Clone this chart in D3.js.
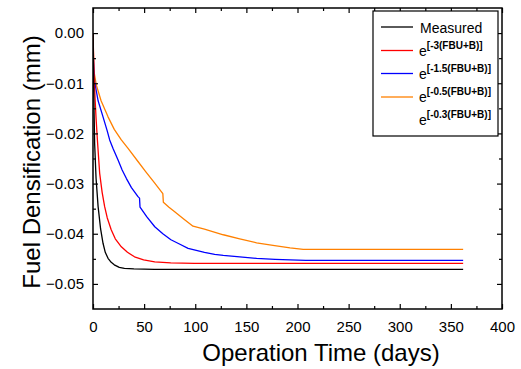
<!DOCTYPE html>
<html><head><meta charset="utf-8">
<script src="https://cdn.jsdelivr.net/npm/d3@7"></script>
<style>
html,body{margin:0;padding:0;background:#fff;}
svg{display:block;font-family:"Liberation Sans",Arial,sans-serif;}
</style></head>
<body>
<svg id="chart" width="521" height="369"></svg>
<script>
// ---- data ----
const measuredDays = [0,0.5,1,1.6,3,5,7.4,9.8,12,14.7,17.8,20.8,25.7,30.7,40,60,362];
const measuredVals = [0,-0.008,-0.015,-0.022,-0.029,-0.0346,-0.039,-0.0419,-0.0437,-0.0449,-0.0457,-0.0462,-0.0467,-0.0469,-0.0470,-0.0471,-0.0471];

const red3Days = [0,1,2,3,4.3,6.5,8.9,11.4,13.9,17.8,21.8,27.7,33.7,40.6,49.5,60.4,76,99,362];
const red3Vals = [0,-0.008,-0.013,-0.017,-0.0213,-0.0279,-0.0317,-0.0346,-0.0368,-0.0392,-0.0410,-0.0426,-0.0437,-0.0446,-0.0452,-0.0456,-0.0458,-0.0459,-0.0459];

const blue15Days = [0,0.8,1.6,5,9.8,13.9,16.3,19.6,24.5,28.5,32.7,37.6,44,45.5,46,52.5,60.4,68.3,76.2,85,93,109,119,127.4,143.5,160,178,192.7,208,362];
const blue15Vals = [-0.003,-0.007,-0.0097,-0.0135,-0.0167,-0.0195,-0.0213,-0.0230,-0.0253,-0.0273,-0.0290,-0.0308,-0.0326,-0.0329,-0.0347,-0.0366,-0.0386,-0.0400,-0.0412,-0.0421,-0.0429,-0.0437,-0.0441,-0.0443,-0.0446,-0.0449,-0.0451,-0.0452,-0.0453,-0.0453];

const orange05Days = [0,0.8,3.3,7.9,14.7,20.8,27.7,34.3,44,51.5,60.4,68.3,68.8,74.3,79.9,89,97.8,109,127.4,143.5,160,176,192.7,205.6,362];
const orange05Vals = [0,-0.0075,-0.0104,-0.0135,-0.0167,-0.0192,-0.0213,-0.0230,-0.0256,-0.0276,-0.0299,-0.0320,-0.0337,-0.0347,-0.0356,-0.0371,-0.0385,-0.0391,-0.0402,-0.0410,-0.0418,-0.0423,-0.0428,-0.0431,-0.0431];

const xTickValues = [0,50,100,150,200,250,300,350,400];
const yTickValues = [0,-0.01,-0.02,-0.03,-0.04,-0.05];
const xMinorTicks = [25,75,125,175,225,275,325,375];
const yMinorTicks = [-0.005,-0.015,-0.025,-0.035,-0.045];

const legendLabels = ["Measured", "-3(FBU+B)", "-1.5(FBU+B)", "-0.5(FBU+B)", "-0.3(FBU+B)"];
const legendColors = ["#000000", "#ff0000", "#0000ff", "#ff8000", null];

// ---- layout ----
const L = 93, R = 502, T = 8, B = 309;
const svg = d3.select("#chart");
const x = d3.scaleLinear().domain([0,400]).range([L,R]);
const y = d3.scaleLinear().domain([-0.055,0.005]).range([B,T]);

const series = [
  {days: measuredDays, vals: measuredVals, color: legendColors[0]},
  {days: red3Days, vals: red3Vals, color: legendColors[1]},
  {days: blue15Days, vals: blue15Vals, color: legendColors[2]},
  {days: orange05Days, vals: orange05Vals, color: legendColors[3]}
];
const line = d3.line().x(d=>x(d[0])).y(d=>y(d[1]));
svg.append("clipPath").attr("id","clip").append("rect")
  .attr("x",L).attr("y",T).attr("width",R-L).attr("height",B-T);
const g = svg.append("g").attr("clip-path","url(#clip)");
[3,2,1,0].forEach(i=>{
  const s = series[i];
  g.append("path").datum(s.days.map((d,k)=>[d,s.vals[k]]))
    .attr("d", line).attr("fill","none").attr("stroke", s.color)
    .attr("stroke-width",1.3).attr("stroke-linejoin","round");
});

// axes: bottom/left with labels, top/right without; ticks inward
const fmtY = d3.format(".2f");
function styleAxis(sel){
  sel.select(".domain").remove();
  sel.selectAll(".tick line").attr("stroke","#000").attr("stroke-width",1.2);
  sel.selectAll("text").attr("fill","#000").style("font-size","15px")
     .style("font-family",'"Liberation Sans",Arial,sans-serif');
}
const xb = svg.append("g").attr("transform",`translate(0,${B})`)
  .call(d3.axisBottom(x).tickValues(xTickValues).tickSizeInner(-5).tickSizeOuter(0).tickPadding(12).tickFormat(d3.format("d")));
styleAxis(xb);
const xbm = svg.append("g").attr("transform",`translate(0,${B})`)
  .call(d3.axisBottom(x).tickValues(xMinorTicks).tickSize(-3).tickFormat(""));
styleAxis(xbm);
const xt = svg.append("g").attr("transform",`translate(0,${T})`)
  .call(d3.axisTop(x).tickValues(xTickValues).tickSize(-5).tickFormat(""));
styleAxis(xt);
const xtm = svg.append("g").attr("transform",`translate(0,${T})`)
  .call(d3.axisTop(x).tickValues(xMinorTicks).tickSize(-3).tickFormat(""));
styleAxis(xtm);

const yl = svg.append("g").attr("transform",`translate(${L},0)`)
  .call(d3.axisLeft(y).tickValues(yTickValues).tickSizeInner(-5).tickSizeOuter(0).tickPadding(9).tickFormat(fmtY));
styleAxis(yl);
const ylm = svg.append("g").attr("transform",`translate(${L},0)`)
  .call(d3.axisLeft(y).tickValues(yMinorTicks).tickSize(-3).tickFormat(""));
styleAxis(ylm);
const yr = svg.append("g").attr("transform",`translate(${R},0)`)
  .call(d3.axisRight(y).tickValues(yTickValues).tickSize(-5).tickFormat(""));
styleAxis(yr);
const yrm = svg.append("g").attr("transform",`translate(${R},0)`)
  .call(d3.axisRight(y).tickValues(yMinorTicks).tickSize(-3).tickFormat(""));
styleAxis(yrm);

// frame
svg.append("rect").attr("x",L).attr("y",T).attr("width",R-L).attr("height",B-T)
  .attr("fill","none").attr("stroke","#000").attr("stroke-width",1.5);

// axis titles
svg.append("text").attr("x",321).attr("y",361).attr("text-anchor","middle")
  .style("font-size","24px").attr("fill","#000").text("Operation Time (days)");
svg.append("text").attr("transform","translate(40,162) rotate(-90)").attr("text-anchor","middle")
  .style("font-size","24px").attr("fill","#000").text("Fuel Densification (mm)");

// legend
const lg = svg.append("g");
lg.append("rect").attr("x",373).attr("y",11).attr("width",125).attr("height",125)
  .attr("fill","#fff").attr("stroke","#000").attr("stroke-width",1.2);
const baselines = [33.3, 55.5, 78.5, 101.5, 124.5];
const lineYs = [27, 50.5, 73.5, 97, 120];
legendLabels.forEach((lab,i)=>{
  if (legendColors[i]) {
    lg.append("line").attr("x1",381).attr("x2",413).attr("y1",lineYs[i]).attr("y2",lineYs[i])
      .attr("stroke",legendColors[i]).attr("stroke-width",1.3);
  }
  if (i===0) {
    lg.append("text").attr("x",420).attr("y",baselines[i]).style("font-size","14px").attr("fill","#000").text(lab);
  } else {
    const t = lg.append("text").attr("x",419).attr("y",baselines[i]).style("font-size","14px").attr("fill","#000");
    t.append("tspan").text("e");
    t.append("tspan").attr("dy",-7).style("font-size","10px").style("font-weight","bold").text("[" + lab + "]");
  }
});
</script>
</body></html>
